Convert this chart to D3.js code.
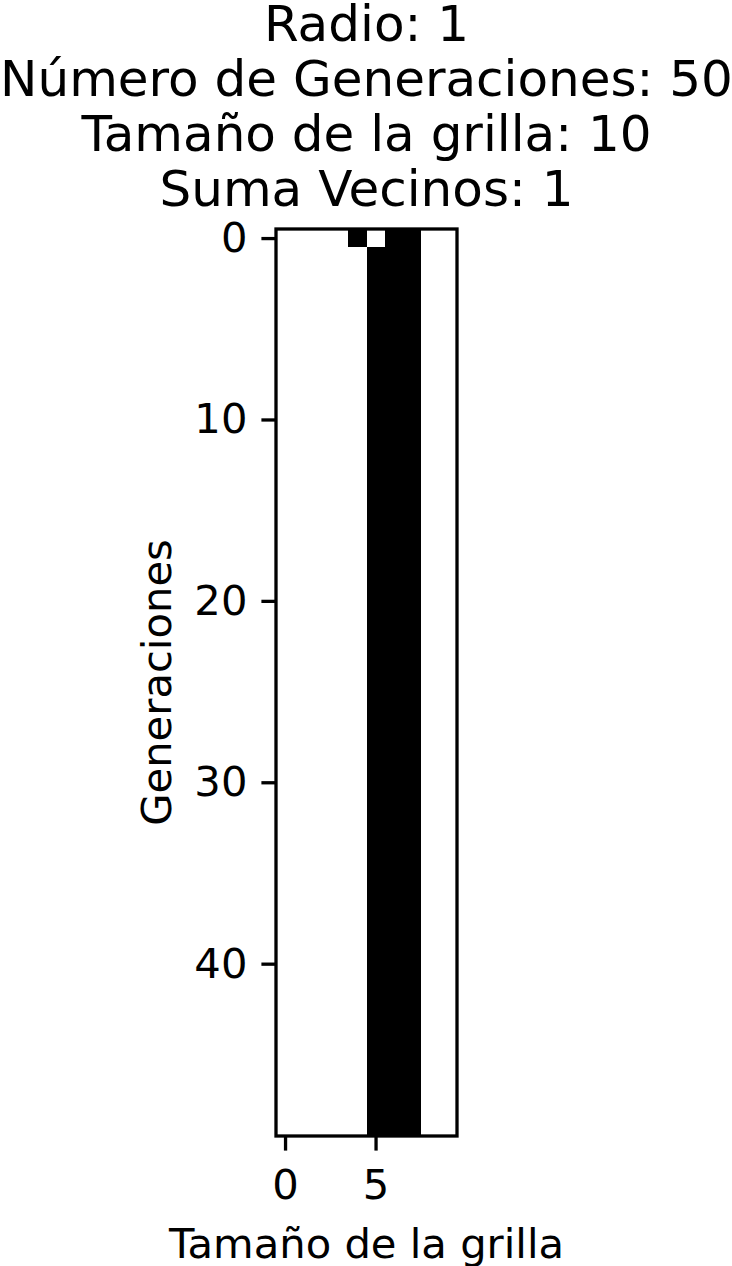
<!doctype html>
<html>
<head>
<meta charset="UTF-8">
<title>automata</title>
<script src="https://d3js.org/d3.v7.min.js"></script>
<style>
  body{margin:0;background:#fff;}
  text{font-family:"DejaVu Sans",sans-serif;fill:#000;}
</style>
</head>
<body>
<svg id="svg1" width="732" height="1266"></svg>
<script>
// values
var titleLines = ["Radio: 1", "Número de Generaciones: 50", "Tamaño de la grilla: 10", "Suma Vecinos: 1"];
var gridSize = 10;
var nGen = 50;
var firstRow = [0,0,0,0,1,0,1,1,0,0];   // generation 0
var steadyRow = [0,0,0,0,0,1,1,1,0,0];  // generations 1..49
var xTicks = [0, 5];
var yTicks = [0, 10, 20, 30, 40];

var pLeft = 276, pRight = 457, pTop = 229, pBottom = 1136;
var svg = d3.select("#svg1");

var x = d3.scaleLinear().domain([-0.5, gridSize - 0.5]).range([pLeft, pRight]);
var y = d3.scaleLinear().domain([-0.5, nGen - 0.5]).range([pTop, pBottom]);

var cells = [];
for (var g = 0; g < nGen; g++) {
  var row = g === 0 ? firstRow : steadyRow;
  for (var c = 0; c < gridSize; c++) {
    cells.push({g: g, c: c, v: row[c]});
  }
}

svg.append("g").selectAll("rect")
  .data(cells)
  .enter().append("rect")
  .attr("x", function(d){ return x(d.c - 0.5); })
  .attr("y", function(d){ return y(d.g - 0.5); })
  .attr("width", function(d){ return x(d.c + 0.5) - x(d.c - 0.5) + 0.3; })
  .attr("height", function(d){ return y(d.g + 0.5) - y(d.g - 0.5) + 0.3; })
  .attr("fill", function(d){ return d.v ? "#000" : "#fff"; })
  .attr("shape-rendering", "crispEdges");

// axes
var xAxis = d3.axisBottom(x).tickValues(xTicks).tickSize(14.6).tickPadding(19).tickFormat(d3.format("d"));
var yAxis = d3.axisLeft(y).tickValues(yTicks).tickSize(14.6).tickPadding(14).tickFormat(d3.format("d"));

var gx = svg.append("g").attr("transform", "translate(0," + pBottom + ")").call(xAxis);
var gy = svg.append("g").attr("transform", "translate(" + pLeft + ",0)").call(yAxis);
[gx, gy].forEach(function(g){
  g.select(".domain").remove();
  g.selectAll("line").attr("stroke", "#000").attr("stroke-width", 3.3);
  g.selectAll("text").attr("font-size", 41.7).attr("font-family", "DejaVu Sans").attr("fill", "#000");
});

// frame
svg.append("rect")
  .attr("x", pLeft).attr("y", pTop)
  .attr("width", pRight - pLeft).attr("height", pBottom - pTop)
  .attr("fill", "none").attr("stroke", "#000").attr("stroke-width", 3.3);

// title
var cx = (pLeft + pRight) / 2;
svg.append("g").selectAll("text")
  .data(titleLines)
  .enter().append("text")
  .attr("x", cx)
  .attr("y", function(d, i){ return 40.5 + i * 55; })
  .attr("text-anchor", "middle")
  .attr("font-size", 50)
  .text(function(d){ return d; });

// axis labels
svg.append("text")
  .attr("x", cx).attr("y", 1258)
  .attr("text-anchor", "middle")
  .attr("font-size", 41.7)
  .text("Tamaño de la grilla");

svg.append("text")
  .attr("transform", "translate(171," + ((pTop + pBottom) / 2) + ") rotate(-90)")
  .attr("text-anchor", "middle")
  .attr("font-size", 41.7)
  .text("Generaciones");
</script>
</body>
</html>
